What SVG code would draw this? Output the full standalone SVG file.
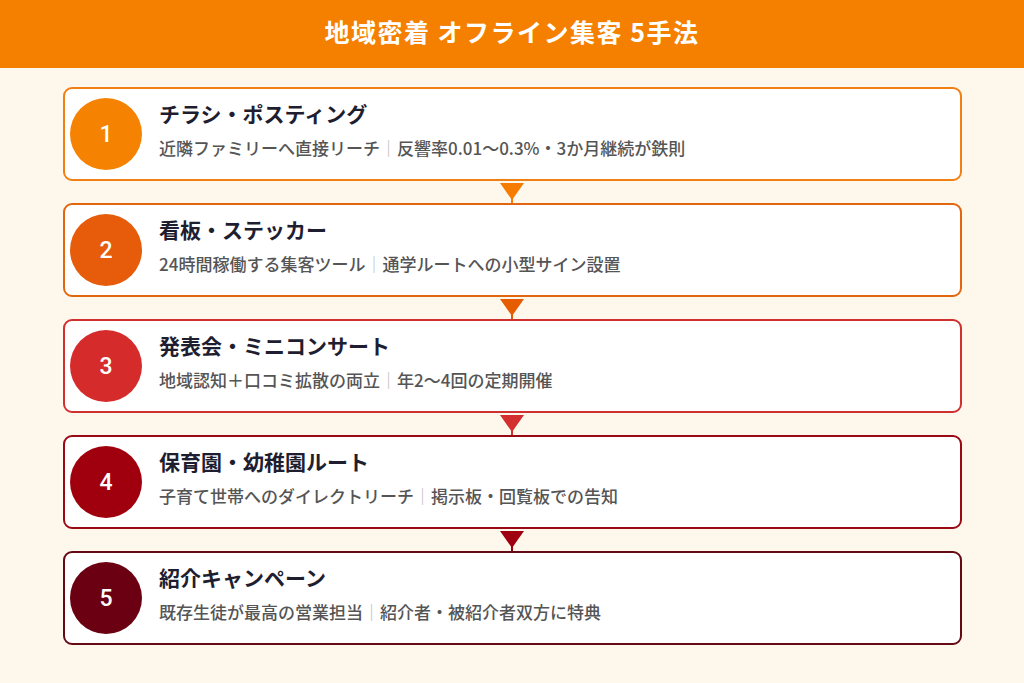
<svg xmlns="http://www.w3.org/2000/svg" width="1024" height="683" viewBox="0 0 1024 683">
<style>
.bg{fill:#FEF7EC}
.card{fill:#FFFFFF;stroke-width:2}
.num{font-family:Roboto,"Liberation Sans",sans-serif;font-size:23px;font-weight:500;fill:#FFFFFF;text-anchor:middle}
.title{font-family:"Noto Sans CJK JP",sans-serif;font-size:21px;font-weight:700;fill:#1E1E30}
.sub{font-family:"Noto Sans CJK JP",sans-serif;font-size:17px;font-weight:500;fill:#555555}
.sep{fill:#BBBBBB;font-weight:400}
.head{font-family:"Noto Sans CJK JP",sans-serif;font-size:25px;font-weight:700;fill:#FFFFFF;text-anchor:middle;letter-spacing:1.5px}
</style>
<rect class="bg" x="0" y="0" width="1024" height="683"/>
<g id="header">
<rect x="0" y="0" width="1024" height="68" fill="#F58000"/>
<text class="head" x="512" y="42">地域密着 オフライン集客 5手法</text>
</g>
<g id="connectors">
<g fill="#F57C00" stroke="#F57C00"><line x1="512" y1="195" x2="512" y2="203" stroke-width="2"/><polygon points="500,183 524,183 512,200" stroke="none"/></g>
<g fill="#E65C00" stroke="#E65C00"><line x1="512" y1="311" x2="512" y2="319" stroke-width="2"/><polygon points="500,299 524,299 512,316" stroke="none"/></g>
<g fill="#D32F2F" stroke="#D32F2F"><line x1="512" y1="427" x2="512" y2="435" stroke-width="2"/><polygon points="500,415 524,415 512,432" stroke="none"/></g>
<g fill="#9E0010" stroke="#9E0010"><line x1="512" y1="543" x2="512" y2="551" stroke-width="2"/><polygon points="500,531 524,531 512,548" stroke="none"/></g>
</g>
<g id="step1">
<rect class="card" x="64" y="88" width="897" height="92" rx="8" stroke="#F07F14"/>
<circle cx="106" cy="134" r="36" fill="#F58200"/>
<text class="num" x="106" y="142">1</text>
<text class="title" x="159" y="122">チラシ・ポスティング</text>
<text class="sub" x="159" y="155">近隣ファミリーへ直接リーチ<tspan class="sep">｜</tspan>反響率0.01〜0.3%・3か月継続が鉄則</text>
</g>
<g id="step2">
<rect class="card" x="64" y="204" width="897" height="92" rx="8" stroke="#E2650F"/>
<circle cx="106" cy="250" r="36" fill="#E65C0A"/>
<text class="num" x="106" y="258">2</text>
<text class="title" x="159" y="238">看板・ステッカー</text>
<text class="sub" x="159" y="271">24時間稼働する集客ツール<tspan class="sep">｜</tspan>通学ルートへの小型サイン設置</text>
</g>
<g id="step3">
<rect class="card" x="64" y="320" width="897" height="92" rx="8" stroke="#D0302E"/>
<circle cx="106" cy="366" r="36" fill="#D62B2B"/>
<text class="num" x="106" y="374">3</text>
<text class="title" x="159" y="354">発表会・ミニコンサート</text>
<text class="sub" x="159" y="387">地域認知＋口コミ拡散の両立<tspan class="sep">｜</tspan>年2〜4回の定期開催</text>
</g>
<g id="step4">
<rect class="card" x="64" y="436" width="897" height="92" rx="8" stroke="#9A0A14"/>
<circle cx="106" cy="482" r="36" fill="#A0000E"/>
<text class="num" x="106" y="490">4</text>
<text class="title" x="159" y="470">保育園・幼稚園ルート</text>
<text class="sub" x="159" y="503">子育て世帯へのダイレクトリーチ<tspan class="sep">｜</tspan>掲示板・回覧板での告知</text>
</g>
<g id="step5">
<rect class="card" x="64" y="552" width="897" height="92" rx="8" stroke="#640A14"/>
<circle cx="106" cy="598" r="36" fill="#6A0012"/>
<text class="num" x="106" y="606">5</text>
<text class="title" x="159" y="586">紹介キャンペーン</text>
<text class="sub" x="159" y="619">既存生徒が最高の営業担当<tspan class="sep">｜</tspan>紹介者・被紹介者双方に特典</text>
</g>
</svg>
